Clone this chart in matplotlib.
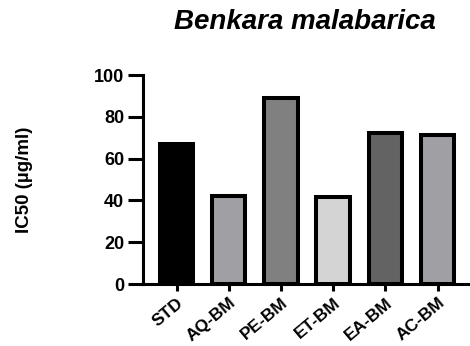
import matplotlib.pyplot as plt

plt.rcParams['font.family'] = ['Liberation Sans', 'DejaVu Sans']

# dados
grupos = ['STD', 'AQ-BM', 'PE-BM', 'ET-BM', 'EA-BM', 'AC-BM']
ic50 = [67.0, 42.0, 89.0, 41.5, 72.5, 71.2]
cores = ['#000000', '#a09fa4', '#808080', '#d4d4d4', '#636363', '#a09fa4']
yticks = [0, 20, 40, 60, 80, 100]

fig = plt.figure(figsize=(4.7, 3.46), dpi=100)
ax = fig.add_axes([0.304, 0.179, 0.696, 0.604])

x = range(len(grupos))
ax.bar(x, ic50, width=0.64, color=cores, edgecolor='black', linewidth=2.9)

ax.set_xlim(-0.645, 5.62)
ax.set_ylim(0, 100)
ax.set_yticks(yticks)
ax.set_xticks(list(x))
ax.set_xticklabels(grupos, rotation=40, ha='right', rotation_mode='anchor',
                   fontsize=12.5, fontweight='bold')
ax.set_yticklabels([str(t) for t in yticks], fontsize=13, fontweight='bold')

for s in ['top', 'right']:
    ax.spines[s].set_visible(False)
for s in ['left', 'bottom']:
    ax.spines[s].set_linewidth(2.2)

ax.tick_params(axis='y', length=10.5, width=2.2, pad=3)
ax.tick_params(axis='x', length=5, width=2.2, pad=3)

ax.set_ylabel('IC50 (µg/ml)', fontsize=13.5, fontweight='bold', labelpad=44)

fig.text(0.649, 0.935, 'Benkara malabarica', fontsize=20, fontweight='bold',
         fontstyle='italic', ha='center', va='center')

plt.savefig('out.png', dpi=100)
plt.close('all')
